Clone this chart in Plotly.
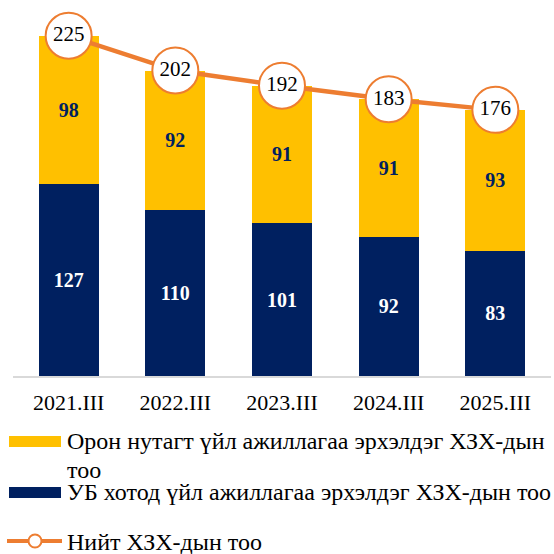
import plotly.graph_objects as go

categories = ["2021.III", "2022.III", "2023.III", "2024.III", "2025.III"]
ub_values = [127, 110, 101, 92, 83]
local_values = [98, 92, 91, 91, 93]
total_values = [225, 202, 192, 183, 176]

name_local_1 = "Орон нутагт үйл ажиллагаа эрхэлдэг ХЗХ-дын"
name_local_2 = "тоо"
name_ub = "УБ хотод үйл ажиллагаа эрхэлдэг ХЗХ-дын тоо"
name_total = "Нийт ХЗХ-дын тоо"

YELLOW = "#FFC000"
NAVY = "#002060"
ORANGE = "#ED7D31"
FONT = "Liberation Serif, Times New Roman, serif"

W, H = 554, 554
ML, MR, MT, MB = 13, 3, 1, 178
PW, PH = W - ML - MR, H - MT - MB


def px(x):
    return (x - ML) / PW


def py(y):
    return (H - MB - y) / PH


fig = go.Figure()
fig.add_trace(go.Bar(
    x=categories, y=ub_values, name=name_ub, marker=dict(color=NAVY, line=dict(width=0)),
    text=ub_values, textposition="inside", insidetextanchor="middle", textangle=0,
    textfont=dict(family=FONT, size=20, color="white", weight="bold"), width=0.56,
))
fig.add_trace(go.Bar(
    x=categories, y=local_values, name=name_local_1, marker=dict(color=YELLOW, line=dict(width=0)),
    text=local_values, textposition="inside", insidetextanchor="middle", textangle=0,
    textfont=dict(family=FONT, size=20, color=NAVY, weight="bold"), width=0.56,
))
fig.add_trace(go.Scatter(
    x=categories, y=total_values, name=name_total, mode="lines+markers+text",
    line=dict(color=ORANGE, width=4.5),
    marker=dict(size=46, color="white", line=dict(color=ORANGE, width=2)),
    text=total_values, textposition="middle center",
    textfont=dict(family=FONT, size=21, color="black"), cliponaxis=False,
))

shapes = [
    dict(type="rect", xref="paper", yref="paper", x0=px(9), x1=px(61), y0=py(447), y1=py(436),
         fillcolor=YELLOW, line=dict(width=0)),
    dict(type="rect", xref="paper", yref="paper", x0=px(9), x1=px(61), y0=py(498), y1=py(487),
         fillcolor=NAVY, line=dict(width=0)),
    dict(type="line", xref="paper", yref="paper", x0=px(7), x1=px(62), y0=py(541), y1=py(541),
         line=dict(color=ORANGE, width=4)),
    dict(type="circle", xref="paper", yref="paper", x0=px(28.5), x1=px(41.5), y0=py(547.5), y1=py(534.5),
         fillcolor="white", line=dict(color=ORANGE, width=2)),
]

annotations = []
for txt, yy in [(name_local_1, 441), (name_local_2, 470), (name_ub, 492), (name_total, 542)]:
    annotations.append(dict(
        text=txt, xref="paper", yref="paper", x=px(65), y=py(yy), xanchor="left", yanchor="middle",
        showarrow=False, font=dict(family=FONT, size=24, color="black"),
    ))

fig.update_layout(
    width=W, height=H, barmode="stack",
    margin=dict(l=ML, r=MR, t=MT, b=MB),
    plot_bgcolor="white", paper_bgcolor="white",
    showlegend=False,
    xaxis=dict(showline=True, linecolor="#D9D9D9", linewidth=1.5, ticks="", showgrid=False,
               tickfont=dict(family=FONT, size=22, color="black"), ticklabelstandoff=6,
               fixedrange=True),
    yaxis=dict(range=[0, 248], visible=False, showgrid=False, fixedrange=True),
    shapes=shapes, annotations=annotations,
    font=dict(family=FONT),
)

fig.write_html("out.html", config={"displayModeBar": False},
               post_script="document.body.style.margin='0';document.body.style.padding='0';")
